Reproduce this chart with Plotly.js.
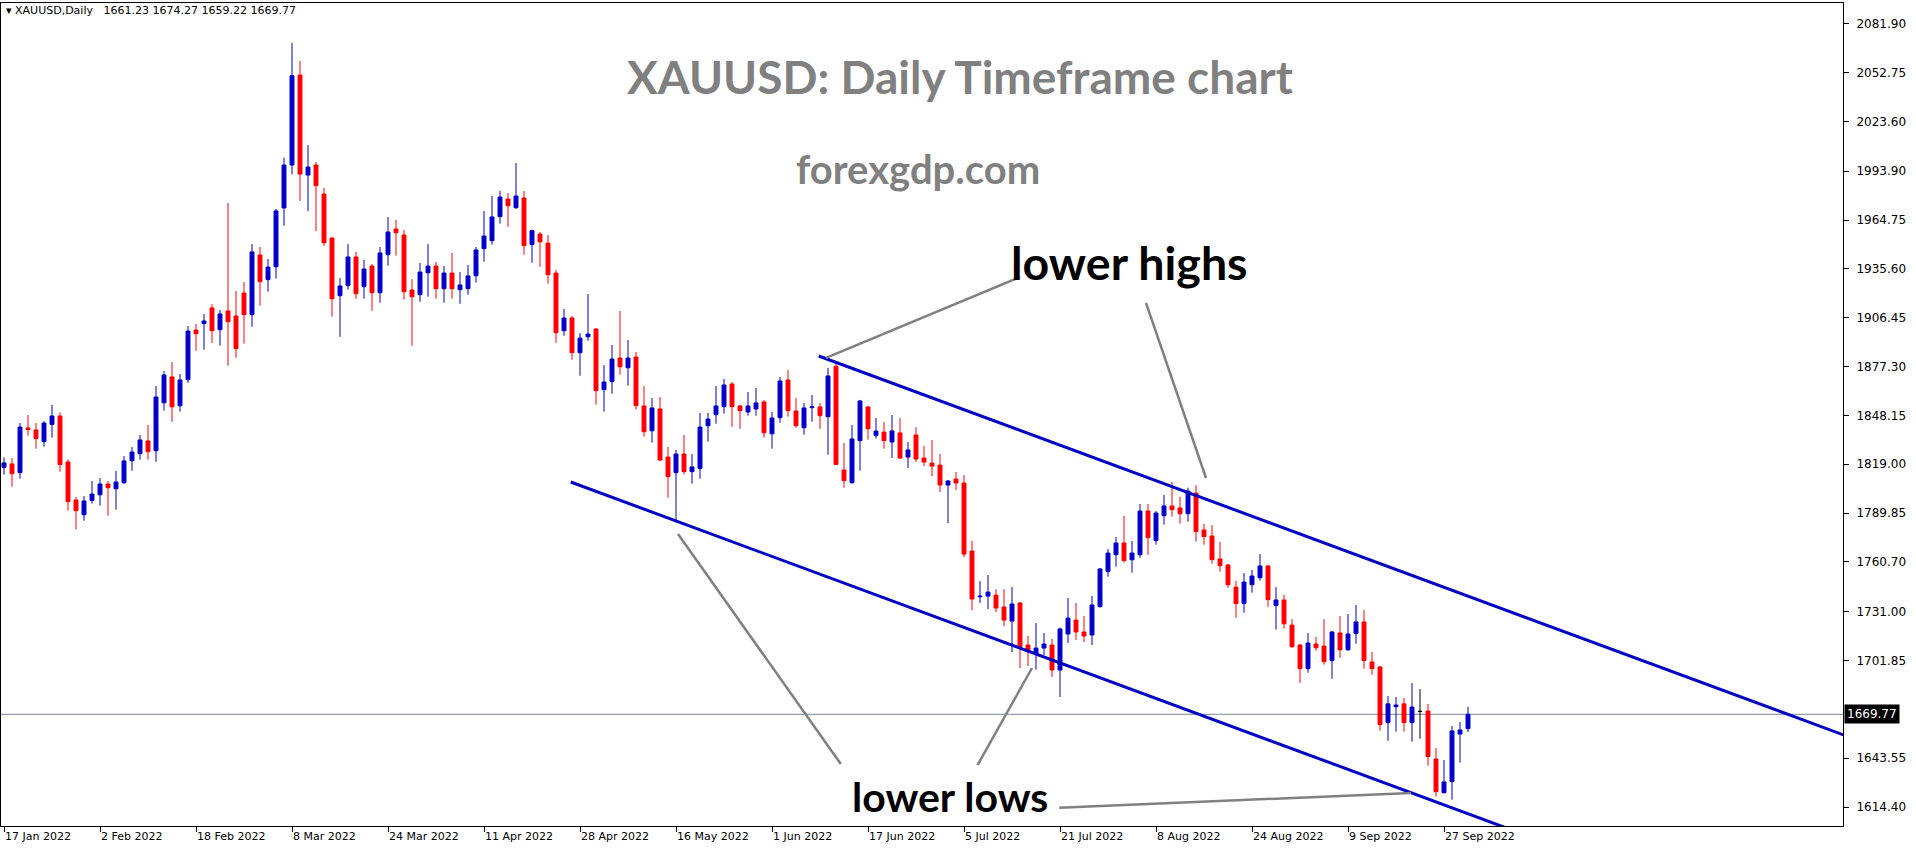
<!DOCTYPE html>
<html>
<head>
<meta charset="utf-8">
<script src="https://cdn.plot.ly/plotly-3.0.1.min.js"></script>
<style>html,body{margin:0;padding:0;background:#fff;}#chart{width:1916px;height:850px;}</style>
</head>
<body>
<div id="chart"></div>
<script>
// ---- tick labels (every 12 bars) ----
const tickBars = [0,12,24,36,48,60,72,84,96,108,120,132,144,156,168,180];
const tickLabels = ["17 Jan 2022","2 Feb 2022","18 Feb 2022","8 Mar 2022","24 Mar 2022","11 Apr 2022","28 Apr 2022","16 May 2022","1 Jun 2022","17 Jun 2022","5 Jul 2022","21 Jul 2022","8 Aug 2022","24 Aug 2022","9 Sep 2022","27 Sep 2022"];
const priceTicks = [2081.90,2052.75,2023.60,1993.90,1964.75,1935.60,1906.45,1877.30,1848.15,1819.00,1789.85,1760.70,1731.00,1701.85,1643.55,1614.40];

// ---- daily OHLC, bar 0 = 17 Jan 2022 ----
const open = [1817.0,1819.2,1814.0,1840.7,1839.5,1832.5,1842.8,1847.8,1820.4,1797.7,
1788.9,1797.3,1800.8,1807.2,1804.4,1808.0,1821.1,1825.3,1832.9,1827.1,
1855.7,1871.1,1853.9,1869.5,1899.1,1902.9,1912.3,1899.3,1910.5,1907.5,
1921.2,1908.3,1943.9,1929.2,1936.9,1972.0,1997.6,2051.3,1991.6,1997.6,
1980.3,1954.0,1919.6,1925.6,1942.7,1925.0,1937.3,1921.4,1944.1,1959.4,
1955.8,1923.0,1920.2,1933.3,1937.3,1923.8,1933.1,1923.2,1923.8,1931.5,
1947.7,1952.4,1966.8,1977.3,1972.1,1977.9,1950.1,1956.4,1951.0,1933.1,
1898.7,1906.3,1885.6,1895.1,1899.7,1863.5,1868.3,1882.4,1876.6,1883.0,
1853.8,1839.0,1852.0,1823.3,1814.0,1825.1,1814.6,1816.4,1842.0,1848.6,
1853.4,1866.9,1853.8,1850.2,1852.0,1856.2,1837.2,1846.8,1869.3,1850.8,
1840.8,1852.8,1853.2,1847.4,1877.5,1815.6,1808.0,1833.1,1853.2,1836.1,
1838.2,1832.3,1837.7,1823.3,1836.5,1822.7,1819.7,1818.5,1806.6,1810.2,
1807.8,1767.2,1739.9,1740.3,1740.9,1733.8,1725.4,1736.2,1711.1,1705.7,
1709.3,1711.1,1696.2,1717.7,1726.0,1718.9,1717.1,1734.0,1754.9,1765.0,
1772.0,1762.0,1765.0,1791.1,1773.4,1788.3,1794.1,1792.9,1789.5,1801.8,
1779.8,1776.2,1762.5,1758.9,1745.7,1735.8,1747.1,1751.3,1758.3,1734.6,
1738.0,1723.0,1711.1,1697.0,1711.7,1710.5,1701.8,1718.3,1708.3,1717.9,
1724.9,1701.0,1698.0,1664.8,1674.3,1676.0,1664.8,1671.5,1671.7,1643.1,
1623.0,1629.6,1658.0,1661.23];
const high = [1823.1,1822.7,1843.6,1848.4,1843.6,1844.8,1854.4,1850.0,1821.9,1799.5,
1800.0,1809.0,1810.8,1809.0,1815.0,1823.9,1829.3,1836.5,1842.4,1865.7,
1874.6,1880.0,1872.9,1901.5,1902.7,1908.7,1914.6,1911.1,1974.9,1922.4,
1927.8,1950.5,1948.7,1941.5,1971.4,2002.0,2070.6,2059.7,2009.5,1999.4,
1983.9,1954.6,1930.1,1950.4,1945.7,1940.9,1938.5,1948.7,1966.6,1964.8,
1958.8,1929.5,1939.1,1950.4,1939.7,1937.3,1945.1,1933.7,1937.9,1948.7,
1970.2,1979.1,1982.1,1980.9,1998.8,1982.1,1959.0,1957.6,1955.8,1934.9,
1911.7,1907.5,1897.3,1920.6,1900.3,1878.2,1890.2,1910.5,1893.2,1886.0,
1865.7,1858.5,1859.1,1829.3,1827.5,1836.5,1825.1,1849.6,1849.6,1865.7,
1869.9,1868.1,1854.4,1862.1,1864.5,1857.4,1850.2,1871.1,1875.3,1858.5,
1855.6,1860.3,1855.6,1876.5,1878.8,1831.7,1842.4,1857.4,1853.8,1846.6,
1844.2,1848.4,1846.6,1832.3,1841.2,1829.9,1833.5,1825.1,1809.6,1814.4,
1812.6,1773.2,1749.3,1752.9,1744.5,1744.5,1745.7,1736.8,1716.5,1724.2,
1718.3,1714.7,1721.5,1739.2,1736.2,1728.4,1740.4,1757.1,1768.4,1775.6,
1788.1,1773.2,1795.3,1795.3,1791.1,1800.7,1808.4,1799.5,1805.0,1806.5,
1783.4,1782.7,1772.6,1759.5,1749.3,1754.1,1755.9,1765.4,1758.9,1745.7,
1741.0,1726.6,1711.7,1718.3,1715.9,1726.6,1719.5,1728.4,1729.6,1735.0,
1732.0,1707.0,1698.6,1680.7,1680.1,1679.5,1688.5,1684.8,1675.9,1649.6,
1642.5,1662.8,1665.2,1674.27];
const low = [1812.8,1805.6,1810.4,1836.1,1828.3,1829.5,1834.9,1814.6,1791.3,1780.0,
1785.3,1795.5,1794.3,1788.3,1791.9,1807.2,1815.2,1821.7,1821.7,1820.5,
1851.0,1844.4,1850.4,1867.7,1886.8,1887.4,1891.4,1889.8,1877.8,1882.6,
1891.0,1901.1,1913.6,1922.0,1929.8,1961.4,1992.0,1976.1,1970.1,1958.2,
1949.4,1907.1,1895.1,1923.2,1917.8,1917.8,1910.6,1915.4,1937.5,1943.5,
1917.2,1889.7,1916.0,1919.0,1917.8,1915.4,1917.8,1914.8,1920.2,1927.4,
1939.9,1950.1,1962.6,1960.8,1971.5,1944.1,1939.3,1936.9,1926.8,1891.5,
1895.7,1881.4,1871.8,1892.7,1854.6,1850.4,1861.1,1872.5,1865.9,1851.6,
1835.5,1831.9,1820.9,1799.0,1785.7,1812.8,1807.4,1810.4,1832.5,1843.2,
1849.2,1841.4,1840.2,1848.0,1848.0,1834.9,1828.3,1843.8,1847.4,1840.8,
1836.7,1844.4,1840.2,1824.7,1818.7,1805.0,1807.4,1815.2,1833.7,1834.3,
1828.3,1822.7,1822.1,1816.8,1820.3,1817.9,1812.0,1802.4,1783.9,1803.6,
1763.6,1732.0,1736.2,1732.6,1730.8,1722.4,1706.9,1697.4,1698.6,1696.5,
1705.1,1692.0,1680.1,1712.3,1714.1,1712.9,1711.1,1733.5,1751.9,1757.9,
1760.3,1754.3,1763.2,1765.0,1771.0,1783.0,1787.7,1783.5,1784.7,1772.8,
1771.0,1759.7,1754.9,1745.3,1727.4,1730.4,1742.4,1749.5,1734.0,1720.3,
1720.9,1709.5,1688.6,1694.6,1707.7,1699.4,1691.0,1703.5,1707.5,1711.9,
1697.0,1693.4,1660.0,1654.0,1659.4,1659.4,1653.4,1655.2,1639.1,1620.6,
1622.5,1618.8,1640.9,1659.22];
const close = [1819.8,1813.4,1841.2,1839.7,1834.3,1843.6,1847.8,1818.8,1796.7,1791.3,
1797.1,1801.2,1807.2,1805.0,1808.4,1821.0,1826.3,1833.5,1826.5,1859.1,
1872.3,1853.3,1869.3,1898.5,1896.9,1904.5,1898.7,1908.7,1904.1,1888.0,
1908.3,1945.7,1928.0,1936.7,1970.2,1997.6,2050.9,1992.2,1996.4,1985.3,
1951.2,1917.8,1925.4,1942.7,1920.8,1935.5,1921.4,1945.1,1957.6,1957.2,
1922.0,1919.0,1933.7,1937.3,1923.8,1933.1,1923.8,1926.0,1931.4,1946.9,
1955.2,1966.6,1978.5,1973.3,1979.1,1949.5,1958.4,1951.8,1932.1,1897.5,
1906.3,1885.6,1894.3,1896.7,1862.9,1868.1,1881.8,1877.2,1882.4,1854.0,
1838.4,1852.6,1821.5,1811.6,1825.1,1814.6,1817.4,1841.2,1846.0,1853.8,
1866.3,1853.4,1851.0,1853.8,1855.6,1837.8,1846.6,1868.7,1851.0,1842.0,
1852.6,1853.2,1848.0,1871.7,1818.9,1809.2,1834.1,1856.8,1840.2,1838.8,
1833.1,1838.9,1822.7,1827.5,1822.1,1820.3,1817.9,1806.6,1809.0,1807.8,
1765.4,1738.6,1740.3,1742.7,1733.2,1726.0,1735.6,1709.9,1707.5,1709.3,
1711.7,1696.2,1720.7,1727.2,1718.9,1716.5,1735.0,1756.5,1766.0,1772.0,
1761.5,1766.0,1791.1,1775.2,1789.9,1794.1,1791.9,1789.5,1803.0,1778.8,
1775.8,1762.1,1758.5,1747.1,1735.8,1748.7,1752.3,1758.3,1738.2,1738.0,
1723.8,1710.1,1697.0,1712.3,1709.5,1701.2,1718.9,1708.3,1717.7,1724.9,
1701.8,1697.0,1663.6,1676.0,1675.3,1664.8,1674.1,1671.5,1644.5,1623.6,
1629.4,1659.8,1660.4,1669.77];

// ---- drawn lines: [bar, price] anchors ----
const upperChannel = {bars:[101.84, 240], prices:[1883.6, 1639.7]};
const lowerChannel = {bars:[70.84, 200], prices:[1808.4, 1580.4]};
const pointerLines = [
  {bars:[102.75,127.0], prices:[1882.5,1930.8]},
  {bars:[142.75,150.25], prices:[1915.3,1810.8]},
  {bars:[84.25,104.6], prices:[1777.4,1640.1]},
  {bars:[128.5,121.7], prices:[1697.4,1639.5]},
  {bars:[131.9,175.9], prices:[1614.0,1622.8]}
];
const lastPrice = 1669.77;

// ---- build traces ----
const barIdx = open.map((_, i) => i);
const isDoji = open.map((o, i) => o === close[i]);
const pick = (arr, keep) => arr.filter((_, i) => keep(i));
const mainKeep = i => !isDoji[i];
const dojiKeep = i => isDoji[i];

const BLUE = '#0000cc', RED = '#ff0000';
const traces = [];
traces.push({
  type:'candlestick', x: pick(barIdx, mainKeep),
  open: pick(open, mainKeep), high: pick(high, mainKeep), low: pick(low, mainKeep), close: pick(close, mainKeep),
  increasing:{line:{color:BLUE,width:1}, fillcolor:BLUE},
  decreasing:{line:{color:RED,width:1}, fillcolor:RED},
  whiskerwidth:0, hoverinfo:'none', showlegend:false
});
traces.push({
  type:'candlestick', x: pick(barIdx, dojiKeep),
  open: pick(open, dojiKeep), high: pick(high, dojiKeep), low: pick(low, dojiKeep), close: pick(close, dojiKeep),
  increasing:{line:{color:'#000000',width:1}, fillcolor:'#000000'},
  decreasing:{line:{color:'#000000',width:1}, fillcolor:'#000000'},
  whiskerwidth:0, hoverinfo:'none', showlegend:false
});
[upperChannel, lowerChannel].forEach(l => traces.push({
  type:'scatter', mode:'lines', x:l.bars, y:l.prices,
  line:{color:'#0000c8', width:3}, hoverinfo:'none', showlegend:false
}));
pointerLines.forEach(l => traces.push({
  type:'scatter', mode:'lines', x:l.bars, y:l.prices,
  line:{color:'#808080', width:2.5}, hoverinfo:'none', showlegend:false
}));

// pixel helpers for paper placement
const W = 1916, H = 850, ML = 1, MR = 73, MT = 3, MB = 24;
const PW = W - ML - MR, PH = H - MT - MB;
const px = x => (x - ML) / PW;
const py = y => (H - MB - y) / PH;

const xTickFont = {family:'DejaVu Sans', size:11, color:'#000'};
const yTickFont = {family:'DejaVu Sans', size:12, color:'#000'};
const layout = {
  width: W, height: H,
  margin:{l:ML, r:MR, t:MT, b:MB, pad:0},
  paper_bgcolor:'#fff', plot_bgcolor:'#fff',
  showlegend:false,
  boxgap:0.3, boxgroupgap:0.3,
  xaxis:{
    range:[-0.375, 229.875], rangeslider:{visible:false},
    tickmode:'array', tickvals:tickBars, ticktext:tickLabels,
    ticks:'outside', ticklen:5, tickcolor:'#000', tickwidth:1,
    ticklabelposition:'outside right',
    showgrid:false, zeroline:false,
    showline:true, mirror:true, linecolor:'#000', linewidth:1,
    tickfont:xTickFont, fixedrange:true
  },
  yaxis:{
    side:'right', range:[1603.1, 2094.3],
    tickmode:'array', tickvals:priceTicks, ticktext:priceTicks.map(v => v.toFixed(2)),
    ticks:'outside', ticklen:5, tickcolor:'#000', tickwidth:1,
    ticklabelstandoff:5,
    showgrid:false, zeroline:false,
    showline:true, mirror:true, linecolor:'#000', linewidth:1,
    tickfont:yTickFont, fixedrange:true
  },
  shapes:[{
    type:'line', xref:'paper', x0:0, x1:1, yref:'y', y0:lastPrice, y1:lastPrice,
    line:{color:'#778899', width:1}, layer:'below'
  }],
  annotations:[
    {xref:'paper', yref:'paper', x:px(4), y:py(11), xanchor:'left', yanchor:'middle', showarrow:false,
     text:'▾ XAUUSD,Daily   1661.23 1674.27 1659.22 1669.77', font:{family:'DejaVu Sans', size:11, color:'#000'}},
    {xref:'paper', yref:'paper', x:px(960), y:py(76), xanchor:'center', yanchor:'middle', showarrow:false,
     text:'<b>XAUUSD: Daily Timeframe chart</b>', font:{family:'Lato', size:46, color:'#808080'}},
    {xref:'paper', yref:'paper', x:px(918), y:py(169), xanchor:'center', yanchor:'middle', showarrow:false,
     text:'<b>forexgdp.com</b>', font:{family:'Lato', size:40, color:'#808080'}},
    {xref:'paper', yref:'paper', x:px(1129), y:py(262), xanchor:'center', yanchor:'middle', showarrow:false,
     text:'<b>lower highs</b>', font:{family:'Lato', size:46.5, color:'#000'}},
    {xref:'paper', yref:'paper', x:px(950), y:py(796), xanchor:'center', yanchor:'middle', showarrow:false,
     text:'<b>lower lows</b>', font:{family:'Lato', size:41, color:'#000'}},
    {xref:'paper', yref:'y', x:1, y:lastPrice, xanchor:'left', yanchor:'middle', showarrow:false,
     xshift:1, text:'1669.77', bgcolor:'#000', borderpad:2,
     font:{family:'DejaVu Sans', size:12, color:'#fff'}}
  ]
};

Plotly.newPlot('chart', traces, layout, {staticPlot:true, displayModeBar:false});
</script>
</body>
</html>
